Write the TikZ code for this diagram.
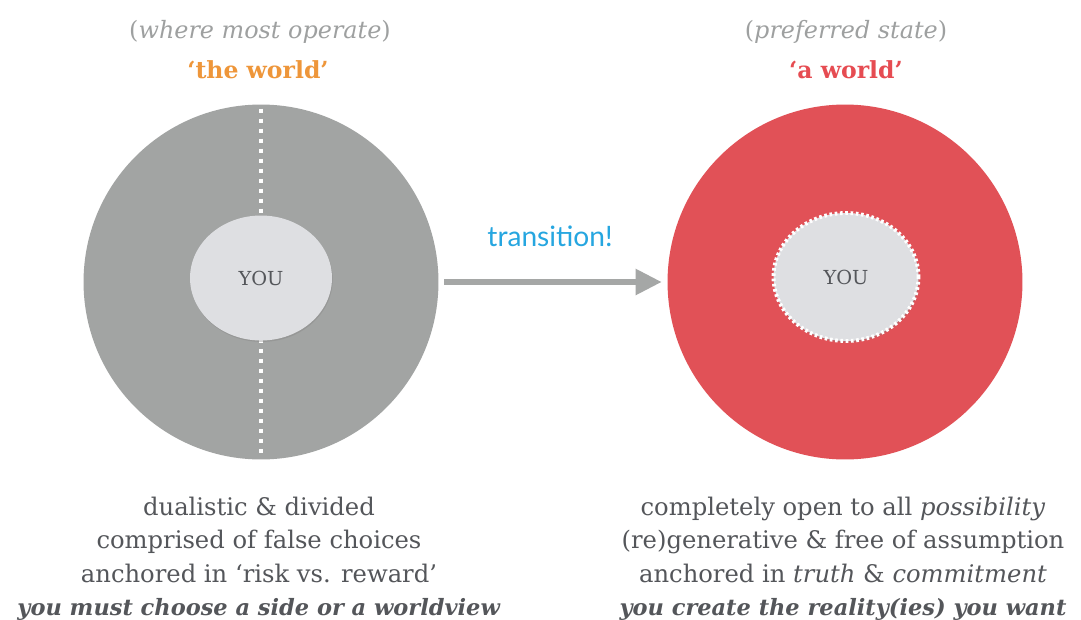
\documentclass[tikz,border=0pt]{standalone}
\usepackage{fontspec}
\setmainfont{DejaVu Serif}
\newfontfamily\transfont{Lato}
\usetikzlibrary{arrows.meta,shadows,shapes.geometric}
\definecolor{worldgray}{RGB}{162,164,163}
\definecolor{worldred}{RGB}{225,81,87}
\definecolor{youfill}{RGB}{222,223,226}
\definecolor{textgray}{RGB}{84,86,90}
\definecolor{notegray}{RGB}{158,160,160}
\definecolor{theorange}{RGB}{238,150,58}
\definecolor{thered}{RGB}{230,76,82}
\definecolor{transblue}{RGB}{38,166,224}
\definecolor{arrowgray}{RGB}{165,167,166}
\newcommand\punchline[1]{\fontsize{12.8}{18.4}\selectfont\textbf{\textit{#1}}}
\tikzset{
  world/.style={circle, minimum size=7.1cm, inner sep=0pt},
  you/.style={ellipse, fill=youfill, minimum width=2.84cm, minimum height=2.5cm,
    inner sep=0pt, text=textgray, font=\fontsize{11}{13}\selectfont,
    drop shadow={opacity=0.35, shadow xshift=0.4pt, shadow yshift=-0.8pt}},
  note/.style={text=notegray, font=\fontsize{13.6}{16}\selectfont, inner sep=0pt},
  title/.style={font=\fontsize{13.4}{16}\selectfont\bfseries, inner sep=0pt},
  blurb/.style={text=textgray, align=center, inner sep=0pt, anchor=north,
    font=\fontsize{13.8}{18.9}\selectfont}
}
\begin{document}
\begin{tikzpicture}[x=0.02cm,y=-0.02cm]
\useasboundingbox[fill=white] (0,0) rectangle (1081,619);
% titles
\node[note] (leftnote) at (260,32) {(\textit{where most operate})};
\node[title, text=theorange] (lefttitle) at (258,70) {‘the world’};
\node[note] (rightnote) at (846,32) {(\textit{preferred state})};
\node[title, text=thered] (righttitle) at (846,70) {‘a world’};
% the world
\node[world, fill=worldgray] (leftworld) at (261,282) {};
\draw[white, line width=2.3pt, dash pattern=on 2.3pt off 3.4pt]
  ([yshift=-2.5pt]leftworld.north) -- ([yshift=4pt]leftworld.south);
\node[you] (leftyou) at (261,278) {YOU};
% a world
\node[world, fill=worldred] (rightworld) at (845,282) {};
\node[you, draw=white, line width=2.2pt, dash pattern=on 1.5pt off 1.5pt,
  minimum width=2.9cm, minimum height=2.56cm] (rightyou) at (846,277) {YOU};
% transition
\draw[arrowgray, line width=3.8pt, -{Triangle[length=15pt,width=14pt]},
  shorten <=3pt, shorten >=3pt] (leftworld.east) -- (rightworld.west);
\node[text=transblue, font=\transfont\fontsize{16}{19}\selectfont, inner sep=0pt]
  (transition) at (550,236) {transition!};
% descriptions
\node[blurb] (leftblurb) at (259,497) {dualistic \& divided\\
  comprised of false choices\\
  anchored in ‘risk vs. reward’\\
  \punchline{you must choose a side or a worldview}};
\node[blurb] (rightblurb) at (843,497) {completely open to all \textit{possibility}\\
  (re)generative \& free of assumption\\
  anchored in \textit{truth} \& \textit{commitment}\\
  \punchline{you create the reality(ies) you want}};
\end{tikzpicture}
\end{document}
